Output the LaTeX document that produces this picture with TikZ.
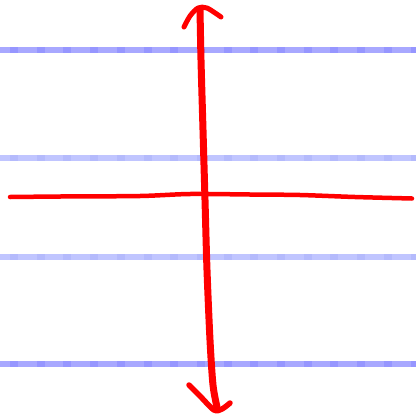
\documentclass[tikz,border=0pt]{standalone}
\begin{document}
\begin{tikzpicture}[x=1pt,y=-1pt,
  guide/.style={line width=6pt},
  pen/.style={draw=red,line cap=round,line join=round}]
\definecolor{gdark}{RGB}{150,150,255}
\definecolor{glight}{RGB}{168,168,255}
\definecolor{mdark}{RGB}{180,186,252}
\definecolor{mlight}{RGB}{192,197,255}
\useasboundingbox[fill=white] (0,0) rectangle (416,418);
% guide lines
\draw[guide,glight] (0,50) -- (416,50);
\draw[guide,gdark,dash pattern=on 8pt off 18.7pt,dash phase=-10pt] (0,50) -- (416,50);
\draw[guide,mlight] (0,158) -- (416,158);
\draw[guide,mdark,dash pattern=on 8pt off 18.7pt,dash phase=-10pt] (0,158) -- (416,158);
\draw[guide,mlight] (0,257) -- (416,257);
\draw[guide,mdark,dash pattern=on 8pt off 18.7pt,dash phase=-10pt] (0,257) -- (416,257);
\draw[guide,glight] (0,364) -- (416,364);
\draw[guide,gdark,dash pattern=on 8pt off 18.7pt,dash phase=-10pt] (0,364) -- (416,364);
% horizontal red stroke
\draw[pen,line width=4.5pt] plot[smooth] coordinates {(10,197) (60,196.5) (140,196) (190,194) (250,194.5) (300,195) (355,197) (412,198.5)};
% vertical red stroke
\draw[pen,line width=7pt] plot[smooth] coordinates {(200,9) (201,60) (203,130) (205,200) (207,270) (210,340) (213,385) (217,407)};
% top arrowhead
\draw[pen,line width=5pt] plot[smooth] coordinates {(184,27) (190,16) (198,8) (207,8) (221,17)};
% bottom arrowhead
\draw[pen,line width=5.5pt] plot[smooth] coordinates {(189,385) (200,396) (214,410) (222,409) (230,403)};
\end{tikzpicture}
\end{document}
